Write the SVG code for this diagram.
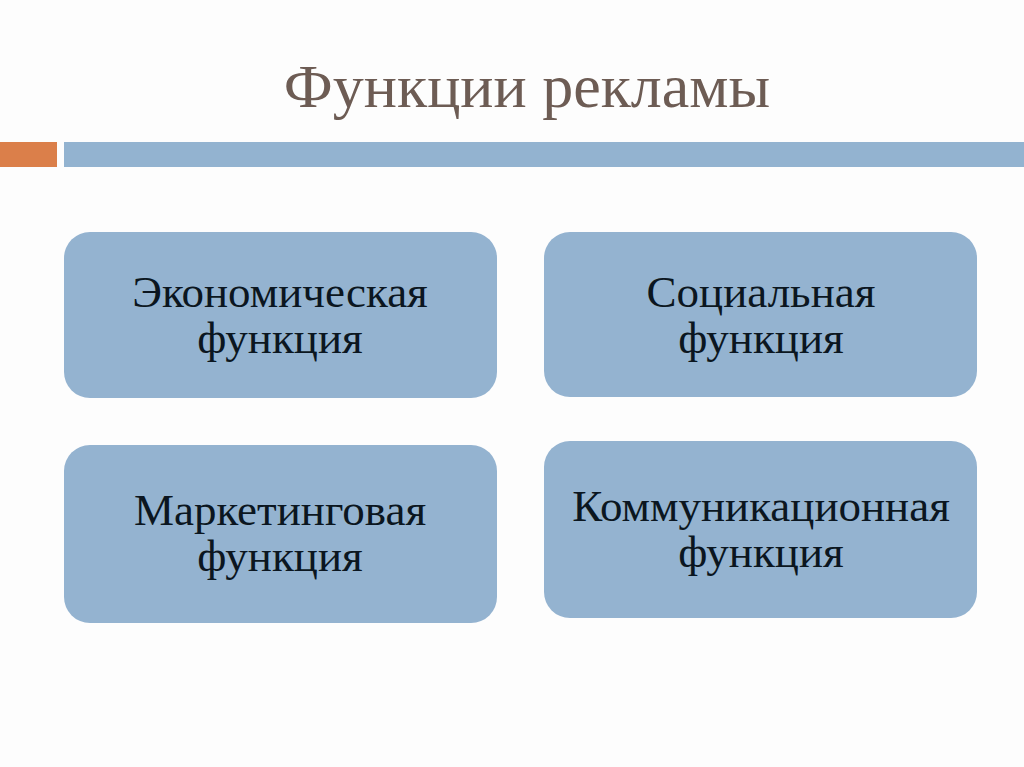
<svg xmlns="http://www.w3.org/2000/svg" width="1024" height="767" viewBox="0 0 1024 767">
<style>
.box{fill:#94b3d0;}
.t{font-family:"Liberation Serif","Times New Roman",serif;font-size:45px;fill:#0b1620;text-anchor:middle;}
.title{font-family:"Liberation Serif","Times New Roman",serif;font-size:62px;fill:#6d5c54;text-anchor:middle;}
</style>
<rect x="0" y="0" width="1024" height="767" fill="#fdfdfd"/>
<text class="title" x="527" y="107">Функции рекламы</text>
<rect x="0" y="142" width="57" height="25" fill="#db7f4a"/>
<rect x="64" y="142" width="960" height="25" fill="#93b3d0"/>
<g id="node-economic">
<rect class="box" x="64" y="232" width="433" height="166" rx="26"/>
<text class="t" x="280" y="307">Экономическая</text>
<text class="t" x="280" y="353">функция</text>
</g>
<g id="node-social">
<rect class="box" x="544" y="232" width="433" height="165" rx="26"/>
<text class="t" x="761" y="307">Социальная</text>
<text class="t" x="761" y="353">функция</text>
</g>
<g id="node-marketing">
<rect class="box" x="64" y="445" width="433" height="178" rx="26"/>
<text class="t" x="280" y="525">Маркетинговая</text>
<text class="t" x="280" y="571">функция</text>
</g>
<g id="node-communication">
<rect class="box" x="544" y="441" width="433" height="177" rx="26"/>
<text class="t" x="761" y="521">Коммуникационная</text>
<text class="t" x="761" y="567">функция</text>
</g>
<g id="connectors"></g>
</svg>
